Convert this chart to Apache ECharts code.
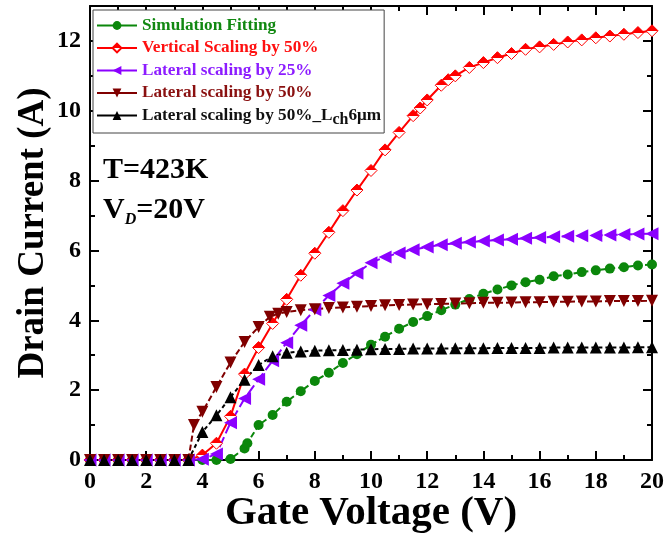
<!DOCTYPE html>
<html>
<head>
<meta charset="utf-8">
<script src="https://cdn.jsdelivr.net/npm/echarts@6/dist/echarts.min.js"></script>
<style>
  html, body { margin: 0; padding: 0; background: #fff; }
  #chart { width: 665px; height: 535px; }
</style>
</head>
<body>
<div id="chart"></div>
<script>
// gate voltage (V) / drain current (A)
const simX = [0, 0.5, 1, 1.5, 2, 2.5, 3, 3.5, 4, 4.5, 5, 5.5, 5.6, 6, 6.5, 7, 7.5, 8, 8.5, 9, 9.5, 10, 10.5, 11, 11.5, 12, 12.5, 13, 13.5, 14, 14.5, 15, 15.5, 16, 16.5, 17, 17.5, 18, 18.5, 19, 19.5, 20];
const simY = [0, 0, 0, 0, 0, 0, 0, 0, 0, 0, 0.03, 0.33, 0.48, 1.0, 1.29, 1.67, 1.97, 2.26, 2.5, 2.78, 3.03, 3.3, 3.53, 3.76, 3.95, 4.12, 4.29, 4.45, 4.61, 4.76, 4.88, 5.0, 5.09, 5.16, 5.26, 5.31, 5.38, 5.43, 5.48, 5.52, 5.57, 5.6];

const vertX = [0, 0.5, 1, 1.5, 2, 2.5, 3, 3.5, 4, 4.5, 5, 5.5, 6, 6.5, 7, 7.5, 8, 8.5, 9, 9.5, 10, 10.5, 11, 11.5, 11.75, 12, 12.5, 12.75, 13, 13.5, 14, 14.5, 15, 15.5, 16, 16.5, 17, 17.5, 18, 18.5, 19, 19.5, 20];
const vertY = [0, 0, 0, 0, 0, 0, 0, 0, 0.14, 0.48, 1.25, 2.46, 3.22, 3.91, 4.6, 5.29, 5.92, 6.52, 7.14, 7.73, 8.29, 8.88, 9.38, 9.86, 10.08, 10.31, 10.73, 10.89, 11.0, 11.24, 11.38, 11.52, 11.64, 11.76, 11.83, 11.9, 11.97, 12.03, 12.09, 12.14, 12.19, 12.24, 12.29];

const lat25X = [0, 0.5, 1, 1.5, 2, 2.5, 3, 3.5, 4, 4.5, 5, 5.5, 6, 6.5, 7, 7.5, 8, 8.5, 9, 9.5, 10, 10.5, 11, 11.5, 12, 12.5, 13, 13.5, 14, 14.5, 15, 15.5, 16, 16.5, 17, 17.5, 18, 18.5, 19, 19.5, 20];
const lat25Y = [0, 0, 0, 0, 0, 0, 0, 0, 0.02, 0.17, 1.07, 1.76, 2.31, 2.84, 3.36, 3.86, 4.3, 4.71, 5.06, 5.35, 5.65, 5.81, 5.93, 6.02, 6.1, 6.16, 6.21, 6.24, 6.27, 6.3, 6.32, 6.35, 6.37, 6.39, 6.41, 6.42, 6.43, 6.44, 6.46, 6.47, 6.48];

const lat50X = [0, 0.5, 1, 1.5, 2, 2.5, 3, 3.5, 3.7, 4, 4.5, 5, 5.5, 6, 6.4, 6.7, 7, 7.5, 8, 8.5, 9, 9.5, 10, 10.5, 11, 11.5, 12, 12.5, 13, 13.5, 14, 14.5, 15, 15.5, 16, 16.5, 17, 17.5, 18, 18.5, 19, 19.5, 20];
const lat50Y = [0, 0, 0, 0, 0, 0, 0, 0, 1.0, 1.38, 2.09, 2.79, 3.38, 3.81, 4.1, 4.19, 4.24, 4.29, 4.32, 4.35, 4.37, 4.39, 4.41, 4.43, 4.44, 4.45, 4.46, 4.47, 4.48, 4.49, 4.5, 4.5, 4.51, 4.52, 4.52, 4.53, 4.53, 4.54, 4.54, 4.55, 4.55, 4.55, 4.56];

const lchX = [0, 0.5, 1, 1.5, 2, 2.5, 3, 3.5, 4, 4.5, 5, 5.5, 6, 6.5, 7, 7.5, 8, 8.5, 9, 9.5, 10, 10.5, 11, 11.5, 12, 12.5, 13, 13.5, 14, 14.5, 15, 15.5, 16, 16.5, 17, 17.5, 18, 18.5, 19, 19.5, 20];
const lchY = [0, 0, 0, 0, 0, 0, 0, 0, 0.8, 1.28, 1.8, 2.3, 2.72, 2.97, 3.07, 3.11, 3.13, 3.14, 3.15, 3.16, 3.17, 3.18, 3.18, 3.19, 3.19, 3.19, 3.2, 3.2, 3.2, 3.21, 3.21, 3.21, 3.21, 3.22, 3.22, 3.22, 3.22, 3.22, 3.22, 3.23, 3.23];

const names = ['Simulation Fitting', 'Vertical Scaling by 50%', 'Lateral scaling by 25%', 'Lateral scaling by 50%', 'Lateral scaling by 50%_Lch6μm'];
const xTicks = { min: 0, max: 20, interval: 2 };
const yTicks = { min: 0, max: 13, interval: 2 };

const zip = (xs, ys) => xs.map((x, i) => [x, ys[i]]);
const FONT = '"Liberation Serif", "Times New Roman", serif';

const myChart = echarts.init(document.getElementById('chart'), null, { renderer: 'canvas' });

const axisCommon = {
  type: 'value',
  splitLine: { show: false },
  axisLine: { show: true, onZero: false, lineStyle: { color: '#000', width: 2 } },
  axisTick: { show: true, inside: true, length: 9, lineStyle: { color: '#000', width: 2 } },
  minorTick: { show: true, splitNumber: 2, length: 5, lineStyle: { color: '#000', width: 2 } },
};

const redHalf = {
  type: 'linear', x: 0, y: 0, x2: 0, y2: 1,
  colorStops: [
    { offset: 0, color: '#ff0000' }, { offset: 0.5, color: '#ff0000' },
    { offset: 0.5, color: '#ffffff' }, { offset: 1, color: '#ffffff' }
  ]
};

function lineSeries(name, data, color, symbol, size, dash, extra) {
  return Object.assign({
    type: 'line',
    name: name,
    data: data,
    xAxisIndex: 0,
    yAxisIndex: 0,
    symbol: symbol,
    symbolSize: size,
    showAllSymbol: true,
    lineStyle: { color: color, width: 2, type: dash },
    itemStyle: { color: color },
    emphasis: { disabled: true },
    z: 3
  }, extra || {});
}

myChart.setOption({
  animation: false,
  backgroundColor: '#fff',
  grid: { left: 90, right: 13, top: 6, bottom: 75, containLabel: false, outerBoundsMode: 'none' },
  xAxis: [
    Object.assign({}, axisCommon, xTicks, {
      position: 'bottom',
      axisLabel: { color: '#000', fontFamily: FONT, fontWeight: 'bold', fontSize: 24, margin: 10 },
      name: 'Gate Voltage (V)',
      nameLocation: 'middle',
      nameGap: 33,
      nameMoveOverlap: false,
      nameTextStyle: { color: '#000', fontFamily: FONT, fontWeight: 'bold', fontSize: 41, lineHeight: 41 }
    }),
    Object.assign({}, axisCommon, xTicks, { position: 'top', axisLabel: { show: false } })
  ],
  yAxis: [
    Object.assign({}, axisCommon, yTicks, {
      position: 'left',
      axisLabel: { color: '#000', fontFamily: FONT, fontWeight: 'bold', fontSize: 24, margin: 9, showMaxLabel: false },
      name: 'Drain Current (A)',
      nameLocation: 'middle',
      nameGap: 38,
      nameMoveOverlap: false,
      nameTextStyle: { color: '#000', fontFamily: FONT, fontWeight: 'bold', fontSize: 37 }
    }),
    Object.assign({}, axisCommon, yTicks, { position: 'right', axisLabel: { show: false } })
  ],
  legend: {
    orient: 'vertical',
    left: 93,
    top: 10,
    backgroundColor: '#fff',
    borderColor: '#444',
    borderWidth: 1,
    borderRadius: 0,
    padding: [7, 3, 5, 3],
    itemWidth: 40,
    itemHeight: 11,
    itemGap: 5.5,
    lineStyle: { type: 'solid', width: 2 },
    textStyle: {
      fontFamily: FONT, fontWeight: 'bold', fontSize: 17.2,
      rich: {
        sub: { fontFamily: FONT, fontWeight: 'bold', fontSize: 16, padding: [9, 0, 0, 0] }
      }
    },
    formatter: function (n) {
      return n === names[4] ? 'Lateral scaling by 50%_L{sub|ch}6μm' : n;
    },
    data: [
      { name: names[0], textStyle: { color: '#118811' } },
      { name: names[1], textStyle: { color: '#ff1010' } },
      { name: names[2], textStyle: { color: '#8c1cff' } },
      { name: names[3], textStyle: { color: '#8a1010' } },
      { name: names[4], textStyle: { color: '#111' } }
    ]
  },
  graphic: [
    {
      type: 'text', left: 103, top: 155,
      style: { text: 'T=423K', fill: '#000', font: 'bold 30px ' + FONT }
    },
    {
      type: 'text', left: 103, top: 195,
      style: {
        text: '{v|V}{d|D}{v|=20V}',
        rich: {
          v: { fill: '#000', fontFamily: FONT, fontWeight: 'bold', fontSize: 30 },
          d: { fill: '#000', fontFamily: FONT, fontWeight: 'bold', fontStyle: 'italic', fontSize: 16, padding: [20, 0, 0, 0] }
        }
      }
    }
  ],
  series: [
    lineSeries(names[0], zip(simX, simY), '#0b870b', 'circle', 10, [6, 3]),
    lineSeries(names[1], zip(vertX, vertY), '#ff0000', 'diamond', 12, 'solid', {
      itemStyle: { color: redHalf, borderColor: '#ff0000', borderWidth: 1 }
    }),
    lineSeries(names[2], zip(lat25X, lat25Y), '#8b00ff', 'triangle', 13, [11, 4], { symbolRotate: 90 }),
    lineSeries(names[3], zip(lat50X, lat50Y), '#800000', 'triangle', 12, [6, 3], { symbolRotate: 180 }),
    lineSeries(names[4], zip(lchX, lchY), '#000000', 'triangle', 12, [4, 3])
  ]
});
</script>
</body>
</html>
